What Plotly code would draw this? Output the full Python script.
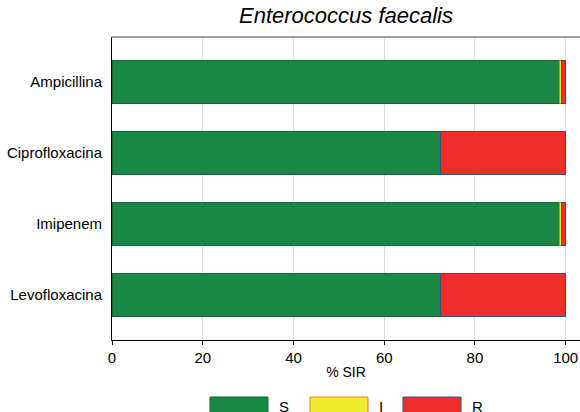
import plotly.graph_objects as go

categories = ["Ampicillina", "Ciprofloxacina", "Imipenem", "Levofloxacina"]
s_values = [98.7, 72.4, 98.7, 72.4]
i_values = [0.3, 0.0, 0.3, 0.0]
r_values = [1.0, 27.6, 1.0, 27.6]
series_names = ["S", "I", "R"]
x_ticks = [0, 20, 40, 60, 80, 100]
title_text = "<i>Enterococcus faecalis</i>"

fills = ["#1a8744", "#eeea2e", "#ee2e2b"]
borders = ["#156b37", "#f07a2a", "#3d4f82"]
FONT = "Liberation Sans, Arial, sans-serif"

W, H = 580, 412
ml, mr, mt, mb = 112, 0, 37, 412 - 340
pw, ph = W - ml - mr, H - mt - mb
x_max = pw / 4.537

def px(x):  # screenshot pixel -> paper
    return (x - ml) / pw

def py(y):
    return (H - mb - y) / ph

fig = go.Figure()
for name, vals, fc, bc in zip(series_names, [s_values, i_values, r_values], fills, borders):
    fig.add_trace(go.Bar(
        y=categories, x=vals, name=name, orientation="h",
        marker=dict(color=fc, line=dict(color=bc, width=1)),
        showlegend=False, hoverinfo="skip",
    ))

shapes = [dict(type="line", xref="paper", yref="paper", x0=0, x1=1, y0=1, y1=1,
               line=dict(color="#444444", width=1))]
annotations = []
box_x = [210, 310, 403]
for name, bx, fc, bc in zip(series_names, box_x, fills, borders):
    shapes.append(dict(type="rect", xref="paper", yref="paper",
                       x0=px(bx), x1=px(bx + 58), y0=py(397), y1=py(420),
                       fillcolor=fc, line=dict(color=bc, width=1)))
    annotations.append(dict(xref="paper", yref="paper", x=px(bx + 67), y=py(406),
                            text=name, showarrow=False, xanchor="left", yanchor="middle",
                            font=dict(family=FONT, size=15, color="#000")))

fig.update_layout(
    width=W, height=H,
    margin=dict(l=ml, r=mr, t=mt, b=mb, pad=0),
    barmode="stack", bargap=0.4,
    plot_bgcolor="white", paper_bgcolor="white",
    font=dict(family=FONT, size=15, color="#000"),
    title=dict(text=title_text, x=px(346), xref="paper", xanchor="center",
               y=1 - 15 / H, yanchor="middle", font=dict(family=FONT, size=22, color="#000")),
    shapes=shapes, annotations=annotations,
    xaxis=dict(range=[0, x_max], tickvals=x_ticks, ticks="outside", ticklen=4,
               tickcolor="#000", showline=True, linecolor="#000", linewidth=1,
               showgrid=True, gridcolor="#dcdcdc", gridwidth=1, zeroline=False,
               title=dict(text="% SIR", standoff=2, font=dict(size=14)),
               tickfont=dict(size=15)),
    yaxis=dict(categoryorder="array", categoryarray=categories, autorange=False,
               range=[3.634, -0.634], showline=True, linecolor="#000", linewidth=1,
               showgrid=False, ticks="", ticklabelstandoff=6, tickfont=dict(size=15)),
)

fig.write_html("out.html", config={"displayModeBar": False},
               post_script="document.body.style.margin='0';document.documentElement.style.overflow='hidden';")
